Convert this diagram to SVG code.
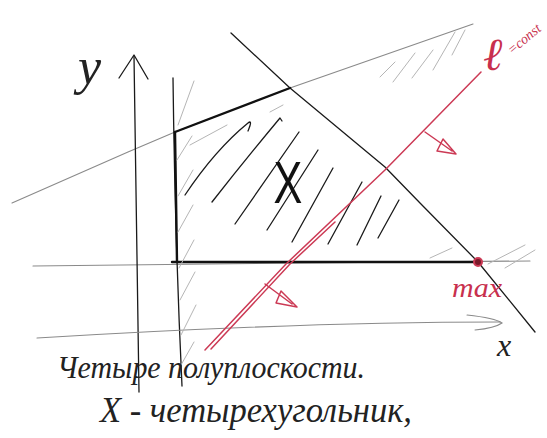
<svg xmlns="http://www.w3.org/2000/svg" width="547" height="438" viewBox="0 0 547 438">
<style>
.ink{fill:none;stroke:#1a1a1a;stroke-width:1.3;stroke-linecap:round;stroke-linejoin:round}
.thick{fill:none;stroke:#111;stroke-width:2.4;stroke-linecap:round}
.gray{fill:none;stroke:#8a8a8a;stroke-width:1.1;stroke-linecap:round}
.hatchg{fill:none;stroke:#b5b5b5;stroke-width:1;stroke-linecap:round}
.red{fill:none;stroke:#cc3a55;stroke-width:1.5;stroke-linecap:round;stroke-linejoin:round}
.lbl{font-family:"Liberation Serif","DejaVu Serif",serif;font-style:italic;fill:#222}
.rtxt{font-family:"Liberation Serif","DejaVu Serif",serif;font-style:italic;fill:#c8304e}
</style>
<rect width="547" height="438" fill="#fff"/>
<g id="constraints">
  <path class="gray" d="M12,203 L128,152 L175,132 L290,88 L473,24"/>
  <path class="gray" d="M33,266 L300,263 L530,261"/>
  <path class="ink" d="M231,33 L290,88 L385,167 L420,203 L478,262 L535,332"/>
  <path class="ink" d="M173,78 Q175,240 182,386"/>
</g>
<g id="region-edges">
  <path class="thick" d="M175,132 L290,88"/>
  <path class="thick" d="M175,132 L177,262"/>
  <path class="thick" d="M172,262 L478,262"/>
</g>
<g id="axes">
  <path class="ink" d="M134,56 Q136,230 139,392"/>
  <path class="ink" d="M119,78 L134,55 L148,79"/>
  <path class="gray" d="M37,338 Q300,322 500,322"/>
  <path class="gray" d="M467,315 Q495,318 502,323 Q495,328 475,330"/>
  <text class="lbl" x="78" y="84" font-size="52">y</text>
  <text class="lbl" x="497" y="356" font-size="32">x</text>
</g>
<g id="hatching-gray">
  <path class="hatchg" d="M178,125 L194,81 M177,160 L192,136 M178,196 L193,170 M178,232 L193,205 M179,268 L194,240 M180,300 L195,272 M181,335 L196,305 M181,365 L194,342"/>
  <path class="hatchg" d="M380,77 L395,62 M393,82 L415,53 M412,78 L433,50 M433,70 L455,32 M452,55 L465,30"/>
  <path class="hatchg" d="M190,145 L227,125 M270,112 L283,105"/>
  <path class="hatchg" d="M430,258 L452,248 M488,264 L525,245 M505,268 L535,250"/>
</g>
<g id="hatching">
  <path class="ink" d="M185,195 Q215,150 248,123 Q253,119 248,131"/>
  <path class="ink" d="M212,202 Q245,160 280,118 L282,121"/>
  <path class="ink" d="M235,224 L299,132"/>
  <path class="ink" d="M267,230 L318,150"/>
  <path class="ink" d="M292,242 L333,168"/>
  <path class="ink" d="M328,244 L362,182"/>
  <path class="ink" d="M357,245 L381,196"/>
  <path class="ink" d="M378,238 L399,200"/>
</g>
<g id="set-X">
  <text transform="translate(288,203) scale(0.9,1.25)" font-family="Liberation Sans, Arial, sans-serif" font-size="48" text-anchor="middle" fill="#111">X</text>
</g>
<g id="level-line">
  <path class="red" d="M205,350 L286,264 L385,170 L481,72"/>
  <path class="red" d="M211,349 L290,264 L335,222"/>
  <path class="red" d="M425,132 L452,151 M443,139 L456,154 L437,151 Z"/>
  <path class="red" d="M265,284 L292,304 M281,291 L297,307 L276,303 Z"/>
  <text class="rtxt" x="483" y="70" font-size="46">ℓ</text>
  <text class="rtxt" transform="translate(512,55) rotate(-40)" font-size="14">=const</text>
</g>
<g id="max-point">
  <circle cx="478" cy="262" r="4" fill="#7a1a2a" stroke="#cc3a55" stroke-width="2"/>
  <text class="rtxt" x="452" y="297" font-size="27" textLength="50" lengthAdjust="spacingAndGlyphs">max</text>
</g>
<g id="caption">
  <text class="lbl" x="57" y="378" font-size="32" textLength="308" lengthAdjust="spacingAndGlyphs">Четыре полуплоскости.</text>
  <text class="lbl" x="100" y="422" font-size="36" textLength="312" lengthAdjust="spacingAndGlyphs">X - четырехугольник,</text>
</g>
</svg>
